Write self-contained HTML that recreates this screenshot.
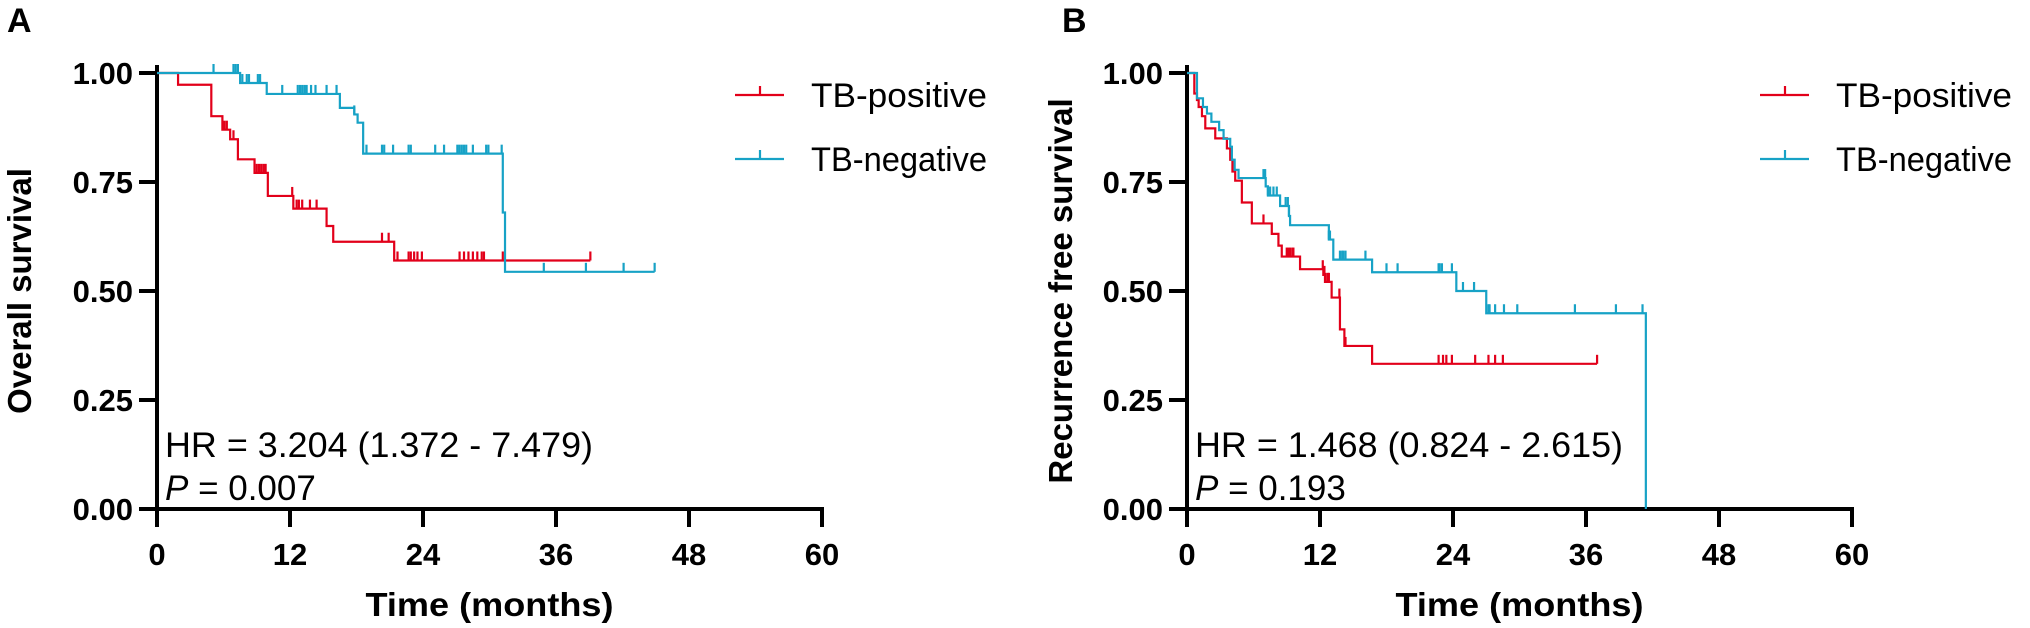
<!DOCTYPE html>
<html><head><meta charset="utf-8"><style>
html,body{margin:0;padding:0;background:#fff;}
svg{display:block;}
text{font-family:"Liberation Sans",Arial,sans-serif;fill:#000;}
.tick{font-weight:bold;font-size:31px;}
.ttl{font-weight:bold;font-size:33px;}
.leg{font-size:34px;}
.hr{font-size:35px;}
</style></head><body>
<svg id="chart" width="2030" height="628" viewBox="0 0 2030 628" xmlns="http://www.w3.org/2000/svg"></svg>
<script>
// ---- Panel A: Overall survival ----
const aPosStepT = [0, 1.9, 4.9, 5.9, 6.6, 7.3, 8.8, 10.0, 12.3, 15.3, 15.9, 21.4, 39.1];
const aPosStepS = [1.0, 0.973, 0.901, 0.870, 0.848, 0.802, 0.771, 0.718, 0.689, 0.649, 0.613, 0.570, 0.570];
const aPosCens = [6.1,6.3,6.9,9.0,9.2,9.4,9.6,9.8,12.2,12.6,12.8,13.1,13.8,14.4,20.3,20.9,21.7,22.7,22.9,23.2,23.5,23.9,27.3,27.7,28.1,28.5,28.9,29.3,29.5,31.2,39.1];
const aNegStepT = [0, 7.5, 9.9, 16.5, 17.8, 18.1, 18.6, 31.2, 31.4, 44.9];
const aNegStepS = [1.0, 0.977, 0.952, 0.920, 0.905, 0.886, 0.815, 0.68, 0.544, 0.544];
const aNegCens = [5.1,6.9,7.1,7.3,7.7,8.1,8.3,9.1,9.3,11.3,12.7,12.9,13.1,13.3,13.5,13.9,14.3,15.3,16.2,17.8,18.9,20.3,20.5,21.3,22.7,22.9,25.1,25.9,27.1,27.3,27.5,27.7,27.9,28.5,29.7,29.9,31.1,34.9,38.7,42.1,44.9];
// ---- Panel B: Recurrence free survival ----
const bPosStepT = [0, 0.66, 0.9, 1.05, 1.35, 1.65, 2.55, 3.6, 3.9, 4.1, 4.35, 4.95, 5.85, 7.65, 8.25, 8.55, 10.2, 12.3, 12.45, 13.05, 13.8, 14.2, 16.7, 37.0];
const bPosStepS = [1.0, 0.953, 0.938, 0.922, 0.901, 0.873, 0.850, 0.827, 0.801, 0.774, 0.753, 0.703, 0.655, 0.631, 0.604, 0.579, 0.550, 0.537, 0.521, 0.485, 0.412, 0.374, 0.333, 0.333];
const bPosCens = [6.9,9.0,9.15,9.3,9.5,9.6,12.25,12.4,12.5,12.7,12.8,13.75,14.3,22.7,23.1,23.4,23.9,26.0,27.2,27.8,28.5,37.0];
const bNegStepT = [0, 0.9, 1.44, 1.8, 2.2, 2.9, 3.3, 3.9, 4.05, 4.3, 4.65, 7.1, 7.3, 8.4, 9.2, 9.3, 12.8, 13.2, 16.7, 24.3, 27.0, 41.4];
const bNegStepS = [1.0, 0.942, 0.922, 0.907, 0.888, 0.869, 0.849, 0.831, 0.801, 0.778, 0.759, 0.740, 0.719, 0.695, 0.672, 0.651, 0.618, 0.572, 0.543, 0.500, 0.449, 0.0];
const bNegCens = [6.9,7.05,7.3,7.5,7.8,8.1,8.9,9.1,9.2,12.8,12.9,13.8,14.0,14.1,14.3,16.1,18.0,19.0,22.7,22.8,23.0,23.9,24.9,25.9,27.2,27.3,27.8,28.6,29.8,35.0,38.7,41.1];
const xTicks = [0, 12, 24, 36, 48, 60];
const yTicks = [0, 0.25, 0.5, 0.75, 1.0];
const yTickLabels = ["0.00", "0.25", "0.50", "0.75", "1.00"];

const RED = "#e2001a", BLUE = "#17a2c6";
const NS = "http://www.w3.org/2000/svg";
const svg = document.getElementById("chart");
function mk(tag, attrs, parent) {
  const e = document.createElementNS(NS, tag);
  for (const k in attrs) e.setAttribute(k, attrs[k]);
  (parent || svg).appendChild(e);
  return e;
}

function panel(opt) {
  const g = mk("g", {});
  
  
  const x0 = opt.x0, x1 = opt.x0 + 665, y0 = 509, y1 = 73;
  const sx = t => x0 + (t / 60) * (x1 - x0);
  const sy = v => y0 - v * (y0 - y1);

  // axes
  const ax = mk("g", {}, g);
  
  
  mk("line", {x1: x0, y1: y1 - 8, x2: x0, y2: y0 + 18, stroke: "#000", "stroke-width": 4}, ax);
  mk("line", {x1: x0 - 18, y1: y0, x2: x1 + 2, y2: y0, stroke: "#000", "stroke-width": 4}, ax);
  yTicks.forEach((v, i) => {
    const y = sy(v);
    const tl = mk("line", {x1: x0 - 18, y1: y, x2: x0, y2: y, stroke: "#000", "stroke-width": 4}, ax);
    
    
    const tx = mk("text", {x: x0 - 24, y: y + 11, "text-anchor": "end", class: "tick"}, ax);
    
    
    tx.textContent = yTickLabels[i];
  });
  xTicks.forEach(t => {
    const x = sx(t);
    const tl = mk("line", {x1: x, y1: y0, x2: x, y2: y0 + 18, stroke: "#000", "stroke-width": 4}, ax);
    
    
    const tx = mk("text", {x: x, y: 565, "text-anchor": "middle", class: "tick"}, ax);
    
    
    tx.textContent = String(t);
  });
  const xt = mk("text", {x: (x0 + x1) / 2, y: 616, "text-anchor": "middle", class: "ttl", textLength: 248, lengthAdjust: "spacingAndGlyphs"}, g);
  
  
  xt.textContent = "Time (months)";
  const yt = mk("text", {x: 0, y: 0, "text-anchor": "middle", class: "ttl", transform: `translate(${opt.ytx},291) rotate(-90)`}, g);
  
  
  yt.textContent = opt.ytitle;

  const lt = mk("text", {x: opt.letterX, y: 32, style: "font-weight:bold;font-size:34px"}, g);
  
  
  lt.textContent = opt.letter;

  function series(T, S, C, color, nm) {
    let d = `M${sx(T[0])},${sy(S[0])}`;
    for (let i = 1; i < T.length; i++) {
      d += ` H${sx(T[i])} V${sy(S[i])}`;
    }
    const p = mk("path", {d: d, fill: "none", stroke: color, "stroke-width": 2.2}, g);
    
    
    C.forEach(t => {
      let v = S[0];
      for (let i = 0; i < T.length; i++) if (T[i] <= t) v = S[i];
      const y = sy(v);
      const c = mk("line", {x1: sx(t), y1: y, x2: sx(t), y2: y - 9, stroke: color, "stroke-width": 2.2}, g);
      
      
    });
  }
  series(opt.posT, opt.posS, opt.posC, RED, "tb-positive");
  series(opt.negT, opt.negS, opt.negC, BLUE, "tb-negative");

  // legend
  const lg = mk("g", {}, g);
  
  
  [[RED, "TB-positive", 95], [BLUE, "TB-negative", 159]].forEach(([col, lab, y]) => {
    const e = mk("g", {}, lg);
    
    
    mk("line", {x1: opt.legX, y1: y, x2: opt.legX + 49, y2: y, stroke: col, "stroke-width": 2.2}, e);
    mk("line", {x1: opt.legX + 25, y1: y, x2: opt.legX + 25, y2: y - 9, stroke: col, "stroke-width": 2.2}, e);
    const t = mk("text", {x: opt.legX + 76, y: y + 12, class: "leg", textLength: 176, lengthAdjust: "spacingAndGlyphs"}, e);
    t.textContent = lab;
  });

  const hr = mk("text", {x: x0 + 8, y: 457, class: "hr", textLength: 428, lengthAdjust: "spacingAndGlyphs"}, g);
  
  
  hr.textContent = opt.hr;
  const pv = mk("text", {x: x0 + 8, y: 500, class: "hr"}, g);
  
  
  const pi = mk("tspan", {"font-style": "italic"}, pv);
  pi.textContent = "P";
  const pr = mk("tspan", {}, pv);
  pr.textContent = " = " + opt.p;
}

panel({name: "panel-a-overall-survival", x0: 157, letter: "A", letterX: 7, ytx: 31, ytitle: "Overall survival",
  posT: aPosStepT, posS: aPosStepS, posC: aPosCens, negT: aNegStepT, negS: aNegStepS, negC: aNegCens,
  legX: 735, hr: "HR = 3.204 (1.372 - 7.479)", p: "0.007"});
panel({name: "panel-b-recurrence-free-survival", x0: 1187, letter: "B", letterX: 1062, ytx: 1072, ytitle: "Recurrence free survival",
  posT: bPosStepT, posS: bPosStepS, posC: bPosCens, negT: bNegStepT, negS: bNegStepS, negC: bNegCens,
  legX: 1760, hr: "HR = 1.468 (0.824 - 2.615)", p: "0.193"});
</script>
</body></html>
